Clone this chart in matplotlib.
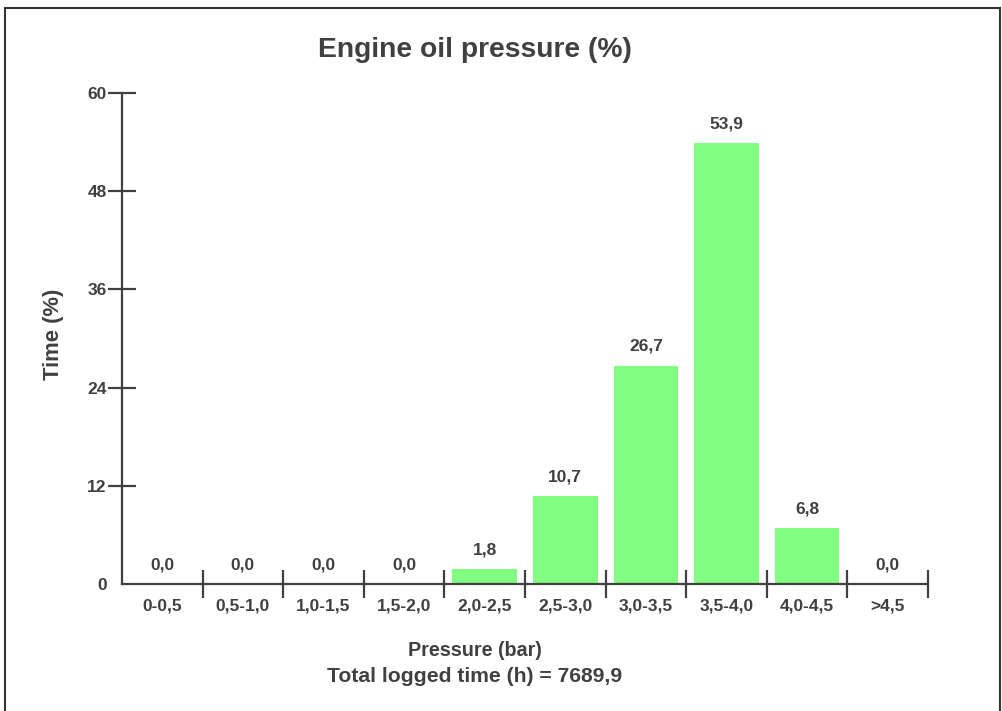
import matplotlib
matplotlib.use("Agg")
import matplotlib.pyplot as plt
from matplotlib.patches import Rectangle

# Data
ranges = ["0-0,5", "0,5-1,0", "1,0-1,5", "1,5-2,0", "2,0-2,5",
          "2,5-3,0", "3,0-3,5", "3,5-4,0", "4,0-4,5", ">4,5"]
time_pct = [0.0, 0.0, 0.0, 0.0, 1.8, 10.7, 26.7, 53.9, 6.8, 0.0]
yticks = [0, 12, 24, 36, 48, 60]
total_hours = "7689,9"

# Style
txt = "#404040"
bar_col = "#80ff80"
small = 12.5
plt.rcParams['font.family'] = ['Liberation Sans', 'DejaVu Sans']
plt.rcParams['font.weight'] = 'bold'

fig = plt.figure(figsize=(10.02, 7.11), dpi=100)
ax = fig.add_axes([122/1002, 1-584/711, 806/1002, 491/711])

xs = [i + 0.5 for i in range(len(ranges))]
ax.bar(xs, time_pct, width=0.8, color=bar_col)
for x, v in zip(xs, time_pct):
    ax.annotate(f"{v:.1f}".replace(".", ","), (x, v), xytext=(0, 8.5),
                textcoords="offset points", ha="center", va="bottom",
                fontsize=small, fontweight="bold", color=txt)

ax.set_xlim(0, len(ranges))
ax.set_ylim(0, 60)

for s in ["top", "right"]:
    ax.spines[s].set_visible(False)
for s in ["left", "bottom"]:
    ax.spines[s].set_color(txt)
    ax.spines[s].set_linewidth(1.6)

# boundary ticks on x, labels at the centres
ax.set_xticks(range(1, len(ranges) + 1))
ax.set_xticklabels([])
ax.set_xticks(xs, minor=True)
ax.set_xticklabels(ranges, minor=True)
ax.tick_params(axis="x", which="major", direction="inout", length=20,
               width=1.6, color=txt)
ax.tick_params(axis="x", which="minor", length=0, pad=10.5,
               labelsize=small, labelcolor=txt)

ax.set_yticks(yticks)
ax.set_yticklabels([str(t) for t in yticks])
ax.tick_params(axis="y", direction="inout", length=20, width=1.6,
               color=txt, pad=1, labelsize=small, labelcolor=txt)
ax.yaxis.get_major_ticks()[0].tick1line.set_visible(False)
ax.yaxis.get_major_ticks()[0].tick2line.set_visible(False)

fig.text(475/1002, 1-50/711, "Engine oil pressure (%)", ha="center",
         va="center", fontsize=20.3, fontweight="bold", color=txt)
fig.text(475/1002, 1-651/711, "Pressure (bar)", ha="center", va="center",
         fontsize=14.2, fontweight="bold", color=txt)
fig.text(475/1002, 1-677/711, f"Total logged time (h) = {total_hours}",
         ha="center", va="center", fontsize=15.2, fontweight="bold", color=txt)
fig.text(53/1002, 1-334/711, "Time (%)", ha="center", va="center",
         rotation=90, fontsize=15.8, fontweight="bold", color=txt)

# outer frame, open at the bottom
fig.add_artist(Rectangle((4.5/1002, -0.1), 995.5/1002, 1.1 - 8/711,
                         transform=fig.transFigure, fill=False,
                         edgecolor="#333333", linewidth=1.5, clip_on=False))

fig.savefig("out.png", dpi=100)
